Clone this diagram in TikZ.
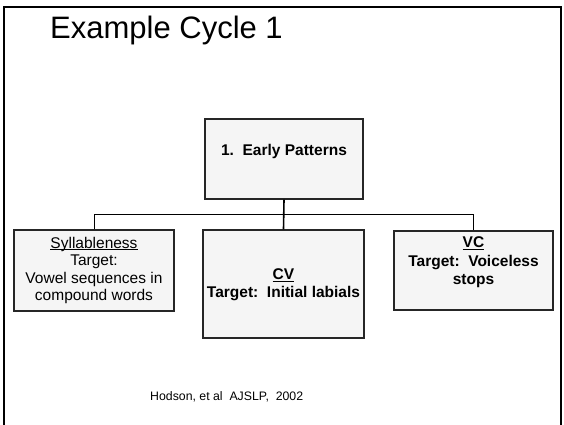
\documentclass[tikz,border=0pt]{standalone}
\usepackage{fontspec}
\setmainfont{Liberation Sans}
\usetikzlibrary{shadows}
% underline drawn just below the baseline, through the descenders
\newcommand\headline[1]{\setbox0\hbox{#1}\rlap{\rule[-1.8pt]{\wd0}{0.9pt}}\box0}
\begin{document}
\begin{tikzpicture}[x=1pt,y=-1pt,
  box/.style={draw=black!85, line width=1.4pt, fill=black!4, align=center,
    inner sep=2pt, drop shadow={shadow xshift=1.2pt, shadow yshift=-1.2pt, fill=black!45, opacity=1}},
  boxtext/.style={align=center, inner sep=0pt},
  link/.style={draw=black, line width=0.9pt},
  trunk/.style={draw=black, line width=1.6pt}]
\useasboundingbox (0,0) rectangle (564,424);
% slide frame, open at the bottom
\draw[line width=2pt] (4,432) -- (4,7) -- (561,7) -- (561,432);
% title
\node[anchor=base west, inner sep=0pt, font=\fontsize{31}{36}\selectfont] (title) at (50,38) {Example Cycle 1};
% boxes
\node[box, minimum width=158pt, minimum height=80pt] (top) at (284,159) {};
\node[boxtext, font=\fontsize{15.5}{18}\bfseries] (toptext) at ([yshift=8pt]top.center) {1.\ \ Early Patterns};
\node[box, minimum width=160pt, minimum height=81pt] (left) at (94,270.5) {};
\node[boxtext, font=\fontsize{15.5}{17.6}\selectfont] (lefttext) at (left.center)
  {\headline{Syllableness}\\Target:\\Vowel sequences in\\compound words};
\node[box, minimum width=161pt, minimum height=108pt] (mid) at (283.5,284) {};
\node[boxtext, font=\fontsize{15.5}{18}\bfseries] (midtext) at ([yshift=-1pt]mid.center)
  {\headline{CV}\\Target:\ \ Initial labials};
\node[box, minimum width=159pt, minimum height=79pt] (right) at (473.5,270.5) {};
\node[boxtext, font=\fontsize{15.5}{18.6}\bfseries] (righttext) at ([yshift=8pt]right.center)
  {\headline{VC}\\Target:\ \ Voiceless\\stops};
% connectors
\coordinate (j) at (284,214);
\draw[trunk] (top.south) -- (mid.north);
\draw[link] (left.north) -- (left.north |- j) -- (right.north |- j) -- (right.north);
% citation
\node[anchor=west, inner sep=0pt, font=\fontsize{12.3}{14}\selectfont] (cite) at (150,397) {Hodson, et al\ \ AJSLP,\ \ 2002};
\end{tikzpicture}
\end{document}
